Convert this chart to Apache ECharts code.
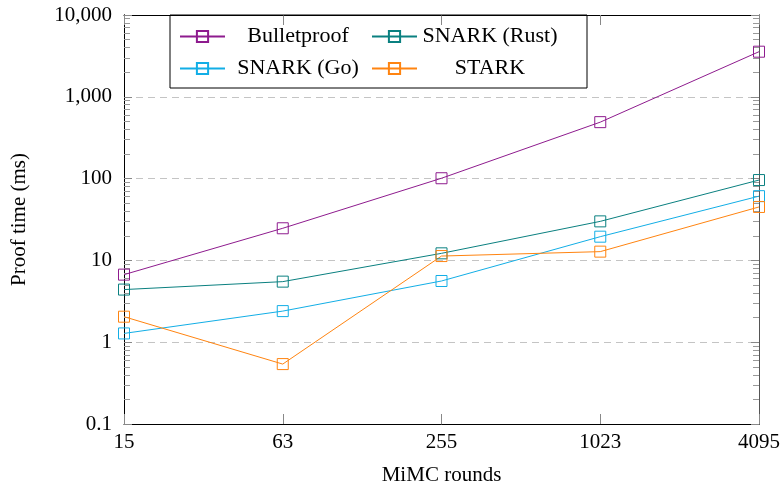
<!DOCTYPE html>
<html>
<head>
<meta charset="utf-8">
<script src="https://cdn.jsdelivr.net/npm/echarts@6/dist/echarts.min.js"></script>
<style>
  html, body { margin: 0; padding: 0; background: #fff; }
  #chart { width: 783px; height: 493px; }
</style>
</head>
<body>
<div id="chart"></div>
<script>
// MiMC rounds (x categories)
const rounds = ["15", "63", "255", "1023", "4095"];
// proof times in ms
const bulletproof = [6.7, 24.7, 101, 490, 3560];
const snarkRust = [4.4, 5.5, 12.2, 30, 96];
const snarkGo = [1.28, 2.4, 5.6, 19.5, 61];
const stark = [2.05, 0.54, 11.3, 12.8, 45];
const seriesNames = ["Bulletproof", "SNARK (Rust)", "SNARK (Go)", "STARK"];
const minorTicks = [0.2, 0.3, 0.4, 0.5, 0.6, 0.7, 0.8, 0.9,
  2, 3, 4, 5, 6, 7, 8, 9, 20, 30, 40, 50, 60, 70, 80, 90,
  200, 300, 400, 500, 600, 700, 800, 900,
  2000, 3000, 4000, 5000, 6000, 7000, 8000, 9000];

const font = "Liberation Serif";
const colors = ["#8e1b8e", "#0a8080", "#12aee6", "#ff8410"];

function makeSeries(name, data, color) {
  return {
    name: name,
    type: "line",
    data: data,
    symbol: "rect",
    symbolSize: 11,
    color: color,
    lineStyle: { color: color, width: 1 },
    itemStyle: { color: "rgba(0,0,0,0)", borderColor: color, borderWidth: 1 },
    emphasis: { disabled: true },
  };
}

// log axis; main = decade ticks, otherwise minor ticks at 2..9
function logAxis(pos, main) {
  return {
    type: "log",
    position: pos,
    min: 0.1,
    max: 10000,
    logBase: 10,
    axisLine: { show: true, lineStyle: { color: pos === "left" ? "#000" : "#555", width: 1 } },
    axisTick: main
      ? { show: true, inside: true, length: 8, lineStyle: { color: "#888" } }
      : { show: true, inside: true, length: 6, customValues: minorTicks, lineStyle: { color: "#999" } },
    axisLabel: { show: false },
    splitLine: { show: false },
  };
}

const leftMain = logAxis("left", true);
leftMain.name = "Proof time (ms)";
leftMain.nameLocation = "middle";
leftMain.nameGap = 94;
leftMain.nameTextStyle = { fontFamily: font, fontSize: 21, color: "#000" };
leftMain.axisLabel = {
  show: true,
  margin: 12,
  fontFamily: font,
  fontSize: 21,
  color: "#000",
  formatter: (v) => Number(v).toLocaleString("en-US"),
};
leftMain.splitLine = {
  show: true,
  lineStyle: { color: "#c4c4c4", type: [7, 5], width: 1 },
};

const chart = echarts.init(document.getElementById("chart"));
chart.setOption({
  animation: false,
  backgroundColor: "#fff",
  grid: { left: 124, right: 22, top: 15, bottom: 69 },
  legend: {
    data: ["Bulletproof", "SNARK (Rust)", "SNARK (Go)", "STARK"],
    left: 170,
    top: 15,
    width: 400,
    padding: [8, 29, 6, 9],
    itemWidth: 45,
    itemHeight: 14,
    itemGap: 5,
    borderColor: "#000",
    borderWidth: 1,
    borderRadius: 0,
    formatter: "{c|{name}}",
    textStyle: {
      fontFamily: font,
      fontSize: 22,
      color: "#000",
      lineHeight: 27,
      rich: { c: { width: 136, align: "center", fontFamily: font, fontSize: 22, lineHeight: 27 } },
    },
  },
  xAxis: [
    {
      type: "category",
      data: rounds,
      boundaryGap: false,
      name: "MiMC rounds",
      nameLocation: "middle",
      nameGap: 41,
      nameTextStyle: { fontFamily: font, fontSize: 21, color: "#000" },
      axisLine: { lineStyle: { color: "#000", width: 1 } },
      axisTick: { inside: true, length: 10, lineStyle: { color: "#888" } },
      axisLabel: { margin: 8, fontFamily: font, fontSize: 21, color: "#000" },
      splitLine: { show: false },
    },
    {
      type: "category",
      data: rounds,
      position: "top",
      boundaryGap: false,
      axisLine: { lineStyle: { color: "#000", width: 1 } },
      axisTick: { inside: true, length: 10, lineStyle: { color: "#888" } },
      axisLabel: { show: false },
      splitLine: { show: false },
    },
  ],
  yAxis: [leftMain, logAxis("left", false), logAxis("right", true), logAxis("right", false)],
  series: [
    makeSeries(seriesNames[0], bulletproof, colors[0]),
    makeSeries(seriesNames[1], snarkRust, colors[1]),
    makeSeries(seriesNames[2], snarkGo, colors[2]),
    makeSeries(seriesNames[3], stark, colors[3]),
  ],
});
</script>
</body>
</html>
